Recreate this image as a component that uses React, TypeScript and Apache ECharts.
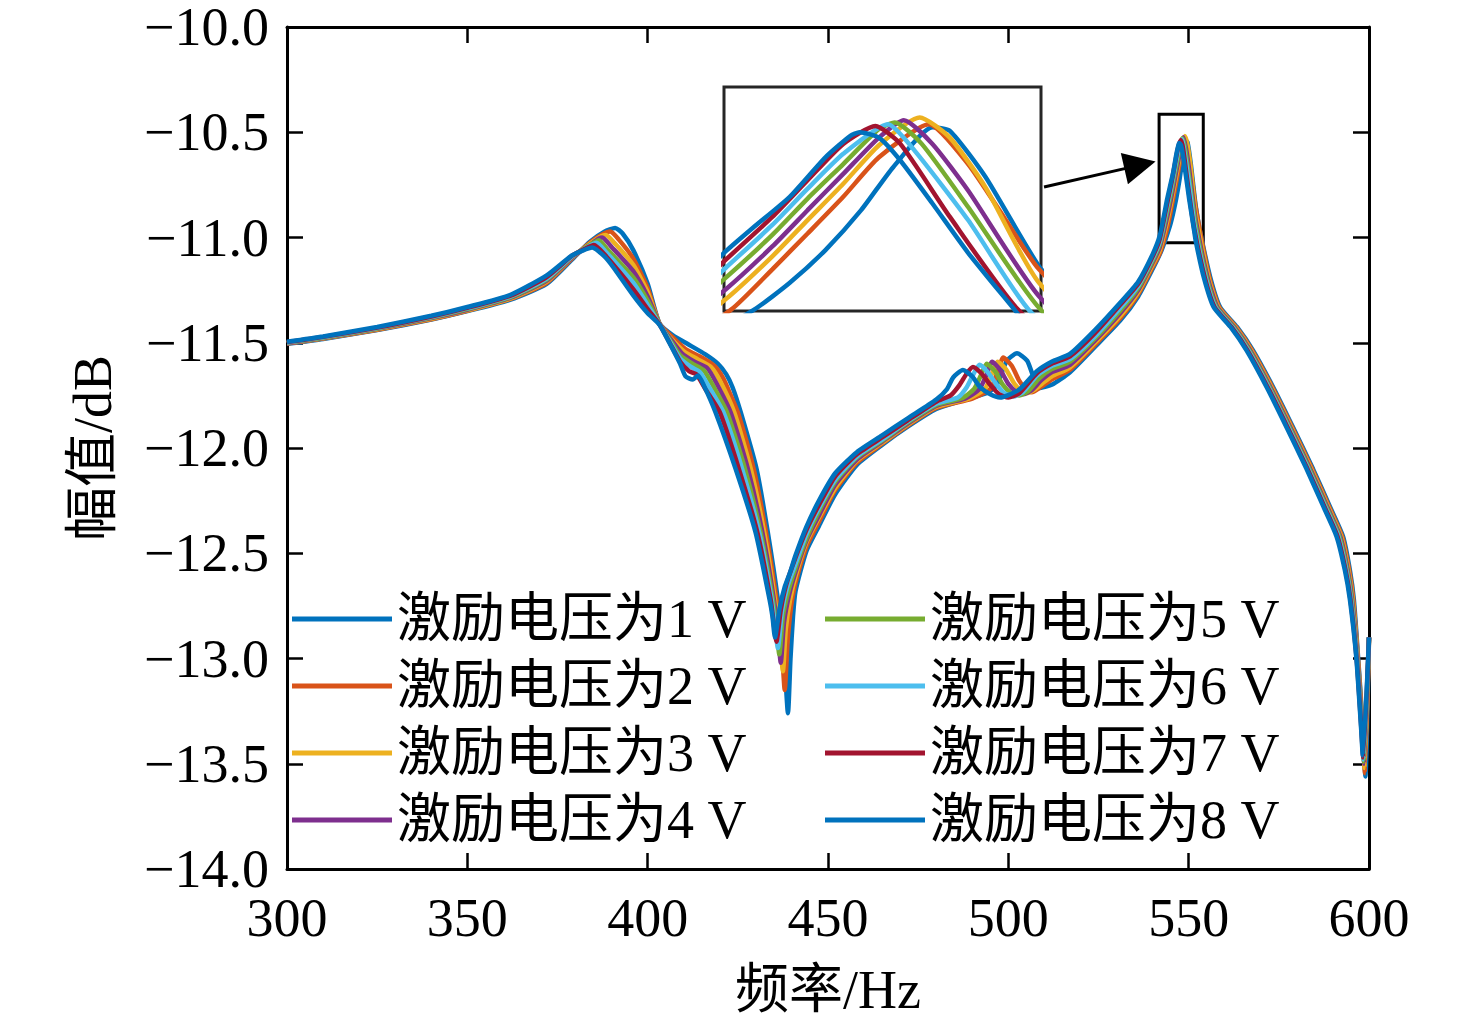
import { useEffect, useRef } from 'react'
import * as echarts from 'echarts'

// legend names and MATLAB default line colours (the 8th wraps back to blue)
const seriesNames = [
  '激励电压为1 V',
  '激励电压为2 V',
  '激励电压为3 V',
  '激励电压为4 V',
  '激励电压为5 V',
  '激励电压为6 V',
  '激励电压为7 V',
  '激励电压为8 V',
]
const seriesColors = ['#0072BD', '#D95319', '#EDB120', '#7E2F8E', '#77AC30', '#4DBEEE', '#A2142F', '#0072BD']

const xRange = [300, 600]
const xStep = 50
const yRange = [-14, -10]
const yStep = 0.5

// inset (zoomed) view and the annotation box / arrow on the main axes
const insetX = [544, 552]
const insetY = [-10.95, -10.45]
const zoomBox = [
  [541.8, -10.415],
  [554.05, -11.025],
]
const arrowLine = [
  [509.9, -10.76],
  [536.5, -10.656],
]

// frequency (Hz), amplitude (dB)
const volt1: number[][] = [
  [300, -11.505], [310, -11.482], [325, -11.44], [340, -11.39], [350, -11.35], [362, -11.295], [372, -11.22],
  [379, -11.105], [384, -11.02], [388, -10.972], [391, -10.955], [393, -10.98], [396, -11.06], [400, -11.22],
  [403.3, -11.41], [407, -11.465], [411, -11.505], [416, -11.555], [419.5, -11.6], [421.8, -11.65], [423.5, -11.71],
  [425.8, -11.83], [430.2, -12.1], [433.3, -12.4], [436.1, -12.72], [437.8, -12.98], [438.9, -13.26], [439.6, -13.0],
  [440.3, -12.8], [441, -12.68], [444, -12.49], [447.5, -12.37], [452, -12.22], [458, -12.08], [465, -11.985],
  [472, -11.9], [480, -11.815], [487, -11.775], [491, -11.755], [494.5, -11.735], [496.8, -11.7], [499.6, -11.585],
  [502.4, -11.55], [505.2, -11.585], [506.8, -11.655], [508.5, -11.715], [512, -11.7], [517.1, -11.64], [524, -11.52],
  [531, -11.395], [536, -11.28], [540, -11.15], [542.5, -11.06], [544.76, -10.947], [545.66, -10.887], [546.56, -10.814],
  [547.46, -10.725], [548.27, -10.629], [549.26, -10.54], [549.7, -10.548], [550.6, -10.651], [551.95, -10.85],
  [553.1, -10.965], [556, -11.19], [558.7, -11.33], [563.4, -11.425], [567.8, -11.535], [573.4, -11.71], [578.9, -11.9],
  [584.5, -12.1], [589.2, -12.28], [592.8, -12.42], [594.7, -12.58], [595.8, -12.72], [597, -13.0], [598.3, -13.33],
  [599, -13.56], [600, -12.9],
]
const volt2: number[][] = [
  [300, -11.504], [310, -11.48], [325, -11.438], [340, -11.388], [350, -11.348], [362, -11.292], [372, -11.215],
  [379, -11.1], [384, -11.025], [387.5, -10.985], [389.6, -10.972], [392, -11.01], [396, -11.1], [400, -11.24],
  [403.3, -11.41], [407, -11.475], [410.5, -11.53], [415, -11.57], [418.5, -11.61], [421, -11.67], [422.8, -11.74],
  [425, -11.83], [429.4, -12.1], [432.8, -12.4], [435.7, -12.72], [437.2, -12.95], [438, -13.15], [438.8, -12.92],
  [439.8, -12.75], [441, -12.64], [444, -12.47], [447.5, -12.35], [452, -12.2], [458, -12.07], [465, -11.98],
  [472, -11.895], [480, -11.81], [490, -11.765], [495, -11.72], [497, -11.64], [498.6, -11.57], [501, -11.61],
  [503, -11.68], [505, -11.725], [506.5, -11.735], [509, -11.71], [512, -11.675], [517.1, -11.628], [524, -11.51],
  [531, -11.384], [536, -11.27], [540, -11.14], [542, -11.075], [544.18, -10.947], [545.22, -10.857], [546.11, -10.777],
  [547.01, -10.695], [547.91, -10.607], [549.17, -10.533], [550.16, -10.622], [551.06, -10.74], [551.95, -10.857],
  [555.74, -11.19], [558.44, -11.33], [563.14, -11.425], [567.54, -11.535], [573.14, -11.71], [578.64, -11.9],
  [584.24, -12.1], [588.94, -12.28], [592.54, -12.42], [594.5, -12.58], [595.64, -12.72], [596.93, -13.0],
  [598.23, -13.33], [598.9, -13.545], [600, -12.9],
]
const volt3: number[][] = [
  [300, -11.503], [310, -11.479], [325, -11.436], [340, -11.386], [350, -11.346], [362, -11.289], [372, -11.21],
  [379, -11.097], [384, -11.03], [387, -10.995], [388.4, -10.988], [391, -11.03], [396, -11.13], [400, -11.26],
  [403.3, -11.41], [406.5, -11.48], [410, -11.54], [414, -11.58], [417.5, -11.615], [420, -11.68], [424, -11.83],
  [428.6, -12.1], [432.3, -12.4], [435.3, -12.72], [436.7, -12.92], [437.5, -13.06], [438.3, -12.86], [439.5, -12.72],
  [441, -12.61], [444, -12.45], [447.5, -12.33], [452, -12.19], [458, -12.06], [465, -11.975], [472, -11.89],
  [480, -11.805], [489, -11.765], [493.5, -11.72], [495.5, -11.645], [497, -11.59], [499.3, -11.625], [501.5, -11.69],
  [503.5, -11.73], [505, -11.74], [507.5, -11.72], [510, -11.685], [512, -11.66], [517.1, -11.617], [524, -11.5],
  [531, -11.373], [536, -11.26], [540, -11.13], [542, -11.06], [544.04, -10.924], [545.22, -10.828], [546.11, -10.747],
  [547.01, -10.666], [547.91, -10.58], [548.94, -10.518], [549.7, -10.563], [550.6, -10.674], [551.95, -10.887],
  [555.49, -11.19], [558.19, -11.33], [562.89, -11.425], [567.29, -11.535], [572.89, -11.71], [578.39, -11.9],
  [583.99, -12.1], [588.69, -12.28], [592.29, -12.42], [594.3, -12.58], [595.49, -12.72], [596.86, -13.0],
  [598.16, -13.33], [598.8, -13.52], [600, -12.9],
]
const volt4: number[][] = [
  [300, -11.502], [310, -11.477], [325, -11.434], [340, -11.383], [350, -11.343], [362, -11.286], [372, -11.205],
  [379, -11.095], [384, -11.035], [386.5, -11.005], [387.4, -11.0], [390, -11.045], [396, -11.16], [400, -11.28],
  [403.3, -11.41], [406.5, -11.485], [409.5, -11.55], [413, -11.59], [416.5, -11.62], [419, -11.69], [423, -11.83],
  [427.8, -12.1], [431.8, -12.4], [435, -12.72], [436.2, -12.9], [436.9, -13.02], [437.8, -12.83], [439.2, -12.7],
  [441, -12.59], [444, -12.44], [447.5, -12.32], [452, -12.175], [458, -12.055], [465, -11.97], [472, -11.885],
  [480, -11.8], [488, -11.765], [492, -11.72], [494, -11.65], [495.5, -11.59], [497.8, -11.63], [500, -11.695],
  [502.3, -11.735], [504, -11.745], [506.5, -11.725], [509, -11.68], [512, -11.64], [517.1, -11.605], [524, -11.49],
  [531, -11.36], [536, -11.25], [540, -11.12], [542, -11.045], [544.04, -10.902], [545.22, -10.806], [546.11, -10.725],
  [547.01, -10.644], [547.91, -10.563], [548.54, -10.524], [549.26, -10.577], [550.16, -10.681], [551.95, -10.917],
  [555.23, -11.19], [557.93, -11.33], [562.63, -11.425], [567.03, -11.535], [572.63, -11.71], [578.13, -11.9],
  [583.73, -12.1], [588.43, -12.28], [592.03, -12.42], [594.1, -12.58], [595.33, -12.72], [596.79, -13.0],
  [598.09, -13.33], [598.7, -13.5], [600, -12.9],
]
const volt5: number[][] = [
  [300, -11.5], [310, -11.476], [325, -11.432], [340, -11.38], [350, -11.34], [362, -11.283], [372, -11.2],
  [379, -11.092], [383.5, -11.04], [386.5, -11.013], [389, -11.06], [396, -11.19], [400, -11.3], [403.3, -11.41],
  [406.3, -11.49], [409, -11.56], [412.5, -11.6], [415.5, -11.63], [418, -11.7], [422, -11.83], [427, -12.1],
  [431.3, -12.4], [434.7, -12.72], [435.8, -12.88], [436.5, -12.98], [437.5, -12.8], [439, -12.68], [441, -12.57],
  [444, -12.43], [447.5, -12.3], [452, -12.16], [458, -12.045], [465, -11.965], [472, -11.88], [480, -11.795],
  [487, -11.765], [490.5, -11.72], [492.4, -11.655], [494, -11.6], [496.3, -11.635], [498.5, -11.7], [500.8, -11.74],
  [503, -11.75], [505.5, -11.73], [508.5, -11.67], [512, -11.625], [517.1, -11.59], [524, -11.48], [531, -11.348],
  [536, -11.24], [540, -11.11], [542, -11.03], [544.04, -10.876], [545.22, -10.78], [546.11, -10.699], [547.01, -10.622],
  [547.91, -10.544], [548.31, -10.529], [548.99, -10.577], [550.16, -10.718], [551.95, -10.943], [554.97, -11.19],
  [557.67, -11.33], [562.37, -11.425], [566.77, -11.535], [572.37, -11.71], [577.87, -11.9], [583.47, -12.1],
  [588.17, -12.28], [591.77, -12.42], [593.9, -12.58], [595.17, -12.72], [596.71, -13.0], [598.01, -13.33],
  [598.6, -13.49], [600, -12.9],
]
const volt6: number[][] = [
  [300, -11.499], [310, -11.474], [325, -11.43], [340, -11.378], [350, -11.337], [362, -11.28], [372, -11.195],
  [379, -11.09], [383, -11.048], [385.8, -11.025], [388.5, -11.07], [396, -11.215], [400, -11.32], [403.3, -11.412],
  [406.2, -11.495], [409, -11.575], [412, -11.615], [414.5, -11.64], [417, -11.71], [421, -11.83], [426.2, -12.1],
  [430.9, -12.4], [434.4, -12.72], [435.4, -12.86], [436.1, -12.95], [437.2, -12.78], [438.7, -12.66], [441, -12.55],
  [444, -12.41], [447.5, -12.285], [452, -12.15], [458, -12.04], [465, -11.96], [472, -11.875], [480, -11.79],
  [486, -11.76], [488.5, -11.71], [490.3, -11.65], [492, -11.605], [494.3, -11.64], [496.8, -11.7], [499, -11.74],
  [501.5, -11.755], [504, -11.735], [508, -11.655], [512, -11.61], [517.1, -11.578], [524, -11.47], [531, -11.335],
  [536, -11.23], [540, -11.1], [542, -11.02], [544.04, -10.854], [545.22, -10.758], [546.11, -10.677], [547.01, -10.599],
  [548.14, -10.533], [548.81, -10.592], [550.16, -10.747], [551.69, -10.947], [554.71, -11.19], [557.41, -11.33],
  [562.11, -11.425], [566.51, -11.535], [572.11, -11.71], [577.61, -11.9], [583.21, -12.1], [587.91, -12.28],
  [591.51, -12.42], [593.7, -12.58], [595.01, -12.72], [596.64, -13.0], [597.94, -13.33], [598.5, -13.48], [600, -12.9],
]
const volt7: number[][] = [
  [300, -11.497], [310, -11.472], [325, -11.428], [340, -11.375], [350, -11.334], [362, -11.276], [372, -11.188],
  [379, -11.087], [382.5, -11.055], [385.1, -11.036], [388, -11.08], [396, -11.245], [400, -11.34], [403.3, -11.413],
  [406.1, -11.5], [409, -11.59], [411.5, -11.635], [413.5, -11.65], [416, -11.72], [420, -11.83], [425.3, -12.1],
  [430.4, -12.4], [434.1, -12.72], [435, -12.84], [435.7, -12.92], [436.9, -12.77], [438.4, -12.65], [441, -12.52],
  [444, -12.39], [447.5, -12.27], [452, -12.135], [458, -12.03], [465, -11.95], [472, -11.87], [480, -11.78],
  [484, -11.75], [486.5, -11.7], [488.5, -11.645], [490.2, -11.615], [492.5, -11.645], [495, -11.7], [497.5, -11.745],
  [500, -11.76], [503, -11.74], [507.9, -11.645], [512, -11.6], [517.1, -11.565], [524, -11.455], [531, -11.32],
  [536, -11.22], [540, -11.09], [542, -11.005], [544.04, -10.836], [545.22, -10.74], [546.11, -10.658], [547.01, -10.577],
  [547.82, -10.537], [548.45, -10.577], [549.7, -10.74], [551.42, -10.947], [554.46, -11.19], [557.16, -11.33],
  [561.86, -11.425], [566.26, -11.535], [571.86, -11.71], [577.36, -11.9], [582.96, -12.1], [587.66, -12.28],
  [591.26, -12.42], [593.5, -12.58], [594.86, -12.72], [596.57, -13.0], [597.87, -13.33], [598.4, -13.47], [600, -12.9],
]
const volt8: number[][] = [
  [300, -11.495], [310, -11.47], [325, -11.425], [340, -11.372], [350, -11.33], [362, -11.272], [372, -11.18],
  [379, -11.085], [382, -11.062], [384.6, -11.048], [388, -11.09], [390.4, -11.14], [396, -11.275], [400, -11.36],
  [403.3, -11.415], [406, -11.5], [409, -11.6], [410.5, -11.66], [412.5, -11.675], [414, -11.655], [415.5, -11.7],
  [418.8, -11.83], [424.4, -12.1], [429.9, -12.4], [433.8, -12.72], [434.6, -12.8], [435.3, -12.9], [436.6, -12.76],
  [438, -12.66], [439.5, -12.59], [441, -12.51], [444, -12.375], [447.5, -12.25], [452, -12.12], [458, -12.02],
  [465, -11.94], [472, -11.86], [480, -11.77], [483, -11.72], [484.7, -11.665], [487.4, -11.63], [490, -11.66],
  [492.1, -11.71], [495, -11.745], [497.7, -11.76], [500.5, -11.745], [503.2, -11.72], [507.9, -11.635], [512, -11.59],
  [517.1, -11.553], [524, -11.44], [531, -11.31], [536, -11.21], [540, -11.08], [542, -10.99], [544.04, -10.817],
  [544.76, -10.762], [545.66, -10.695], [546.56, -10.607], [547.19, -10.559], [547.42, -10.551], [547.91, -10.563],
  [548.45, -10.614], [549.26, -10.71], [550.16, -10.82], [551.33, -10.947], [552, -11.02], [554.2, -11.19],
  [556.9, -11.33], [561.6, -11.425], [566, -11.535], [571.6, -11.71], [577.1, -11.9], [582.7, -12.1], [587.4, -12.28],
  [591, -12.42], [593.3, -12.58], [594.7, -12.72], [596.5, -13.0], [597.8, -13.33], [598.3, -13.46], [600, -12.9],
]
const seriesData = [volt1, volt2, volt3, volt4, volt5, volt6, volt7, volt8]

const FONT = "'Liberation Serif', 'Times New Roman', 'Noto Sans CJK SC', serif"
const minus = (v: number) => (v < 0 ? '\u2212' : '') + Math.abs(v).toFixed(1)

export default function App() {
  const chartRef = useRef<HTMLDivElement>(null)

  useEffect(() => {
    if (!chartRef.current) return
    const chart = echarts.init(chartRef.current, null, { renderer: 'svg' })

    const frameAxis = {
      axisLine: { show: true, onZero: false, lineStyle: { color: '#000', width: 3 } },
      axisTick: { show: true, inside: true, length: 16, lineStyle: { color: '#000', width: 2.5 } },
      splitLine: { show: false },
    }

    const mainSeries: any[] = seriesData.map((d, i) => ({
      name: seriesNames[i],
      type: 'line',
      xAxisIndex: 0,
      yAxisIndex: 0,
      data: d,
      symbol: 'none',
      smooth: 0.2,
      lineStyle: { color: seriesColors[i], width: 4.5 },
      itemStyle: { color: seriesColors[i] },
      emphasis: { disabled: true },
      z: 2 + i,
    }))
    mainSeries[7].markArea = {
      silent: true,
      label: { show: false },
      itemStyle: { color: 'rgba(0,0,0,0)', borderColor: '#000', borderWidth: 3 },
      data: [[{ coord: zoomBox[0] }, { coord: zoomBox[1] }]],
    }
    mainSeries[7].markLine = {
      silent: true,
      symbol: ['none', 'triangle'],
      symbolSize: 32,
      label: { show: false },
      lineStyle: { color: '#000', width: 3, type: 'solid' },
      data: [[{ coord: arrowLine[0] }, { coord: arrowLine[1] }]],
    }

    const insetSeries = seriesData.map((d, i) => ({
      name: seriesNames[i],
      type: 'line',
      xAxisIndex: 2,
      yAxisIndex: 2,
      data: d,
      symbol: 'none',
      smooth: 0.2,
      lineStyle: { color: seriesColors[i], width: 4.5 },
      itemStyle: { color: seriesColors[i] },
      emphasis: { disabled: true },
      z: 2 + i,
    }))

    const legendBase = {
      orient: 'vertical',
      top: 589,
      padding: 0,
      icon: 'rect',
      itemWidth: 100,
      itemHeight: 5,
      itemGap: 7,
      selectedMode: false,
      textStyle: { fontSize: 54, fontFamily: FONT, color: '#000', lineHeight: 60 },
    }

    const option: any = {
      animation: false,
      backgroundColor: '#fff',
      grid: [
        { left: 287, top: 27, right: 107, bottom: 160 },
        {
          left: 724,
          top: 87,
          width: 317,
          height: 224,
          show: true,
          backgroundColor: '#fff',
          borderColor: '#262626',
          borderWidth: 3,
        },
      ],
      legend: [
        { ...legendBase, left: 292, data: seriesNames.slice(0, 4) },
        { ...legendBase, left: 825, data: seriesNames.slice(4) },
      ],
      xAxis: [
        {
          ...frameAxis,
          type: 'value',
          gridIndex: 0,
          position: 'bottom',
          min: xRange[0],
          max: xRange[1],
          interval: xStep,
          axisLabel: { fontSize: 54, fontFamily: FONT, color: '#000', margin: 22 },
          name: '频率/Hz',
          nameLocation: 'middle',
          nameGap: 94,
          nameTextStyle: { fontSize: 54, fontFamily: FONT, color: '#000' },
        },
        {
          ...frameAxis,
          type: 'value',
          gridIndex: 0,
          position: 'top',
          min: xRange[0],
          max: xRange[1],
          interval: xStep,
          axisLabel: { show: false },
        },
        { type: 'value', gridIndex: 1, min: insetX[0], max: insetX[1], show: false },
      ],
      yAxis: [
        {
          ...frameAxis,
          type: 'value',
          gridIndex: 0,
          position: 'left',
          min: yRange[0],
          max: yRange[1],
          interval: yStep,
          axisLabel: { fontSize: 54, lineHeight: 50, fontFamily: FONT, color: '#000', margin: 18, formatter: minus },
          name: '幅值/dB',
          nameLocation: 'middle',
          nameGap: 167,
          nameTextStyle: { fontSize: 54, fontFamily: FONT, color: '#000' },
        },
        {
          ...frameAxis,
          type: 'value',
          gridIndex: 0,
          position: 'right',
          min: yRange[0],
          max: yRange[1],
          interval: yStep,
          axisLabel: { show: false },
        },
        { type: 'value', gridIndex: 1, min: insetY[0], max: insetY[1], show: false },
      ],
      series: [...mainSeries, ...insetSeries],
    }

    chart.setOption(option)

    const handleResize = () => {
      chart.resize()
    }
    window.addEventListener('resize', handleResize)

    return () => {
      window.removeEventListener('resize', handleResize)
      chart.dispose()
    }
  }, [])

  return (
    <div
      ref={chartRef}
      style={{ position: 'absolute', left: 0, top: 0, width: '1476px', height: '1029px', background: '#fff' }}
    />
  )
}
